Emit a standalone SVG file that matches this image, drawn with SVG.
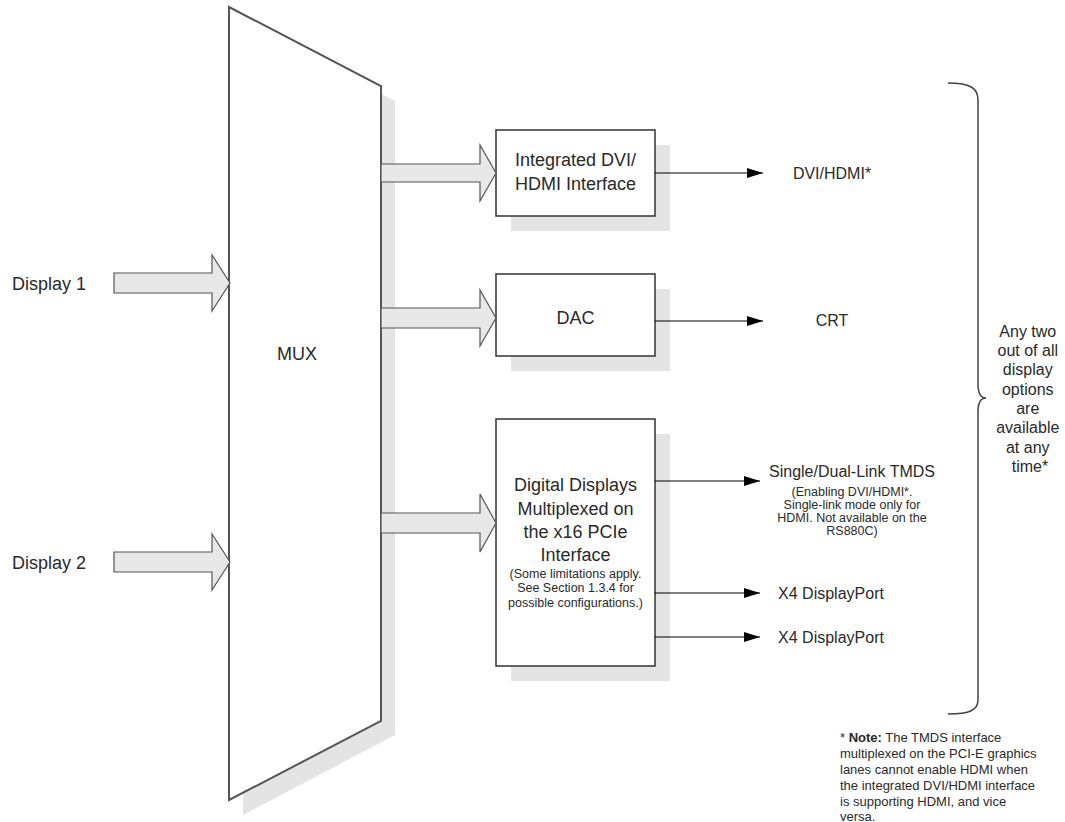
<svg xmlns="http://www.w3.org/2000/svg" width="1065" height="822" viewBox="0 0 1065 822">
<style>
text{font-family:"Liberation Sans",Arial,sans-serif;fill:#2a2a2a}
.big{font-size:18px}
.mid{font-size:16px}
.sm{font-size:12.5px}
.note{font-size:13px}
.shadow{fill:#e4e4e4;stroke:none}
.box{fill:#fff;stroke:#333;stroke-width:1.5}
.blk{fill:#e8e8e8;stroke:#555;stroke-width:1.2;stroke-linejoin:miter}
.conn{stroke:#000;stroke-width:1.2;fill:none}
</style>
<defs>
<marker id="ah" markerWidth="16" markerHeight="10" refX="16" refY="5" orient="auto" markerUnits="userSpaceOnUse">
<path d="M0,0 L16,5 L0,10 Z" fill="#000"/>
</marker>
</defs>
<rect width="1065" height="822" fill="#fff"/>

<g id="mux">
<polygon class="shadow" points="243,22 395,101 395,735 243,815"/>
<polygon points="229,7 381,86 381,721 229,800" fill="#fff" stroke="#555" stroke-width="2"/>
<text class="big" x="297" y="360" text-anchor="middle">MUX</text>
</g>

<g id="display1">
<text class="big" x="12" y="290">Display 1</text>
</g>
<g id="display2">
<text class="big" x="12" y="569">Display 2</text>
</g>

<g id="box-dvi">
<rect class="shadow" x="511" y="145" width="159" height="86"/>
<rect class="box" x="496" y="130" width="159" height="86"/>
<text class="big" x="575.5" y="166" text-anchor="middle">Integrated DVI/</text>
<text class="big" x="575.5" y="190" text-anchor="middle">HDMI Interface</text>
</g>

<g id="box-dac">
<rect class="shadow" x="511" y="289" width="159" height="82"/>
<rect class="box" x="496" y="274" width="159" height="82"/>
<text class="big" x="575.5" y="324" text-anchor="middle">DAC</text>
</g>

<g id="box-digital">
<rect class="shadow" x="511" y="434" width="159" height="247"/>
<rect class="box" x="496" y="419" width="159" height="247"/>
<text class="big" x="575.5" y="491" text-anchor="middle">Digital Displays</text>
<text class="big" x="575.5" y="515" text-anchor="middle">Multiplexed on</text>
<text class="big" x="575.5" y="538" text-anchor="middle">the x16 PCIe</text>
<text class="big" x="575.5" y="561" text-anchor="middle">Interface</text>
<text class="sm" x="575.5" y="578" text-anchor="middle">(Some limitations apply.</text>
<text class="sm" x="575.5" y="592" text-anchor="middle">See Section 1.3.4 for</text>
<text class="sm" x="575.5" y="607" text-anchor="middle">possible configurations.)</text>
</g>

<g id="out-dvi"><text class="mid" x="832" y="179" text-anchor="middle">DVI/HDMI*</text></g>
<g id="out-crt"><text class="mid" x="832" y="326" text-anchor="middle">CRT</text></g>
<g id="out-tmds">
<text class="mid" x="852" y="477" text-anchor="middle">Single/Dual-Link TMDS</text>
<text class="sm" x="852" y="496" text-anchor="middle">(Enabling DVI/HDMI*.</text>
<text class="sm" x="852" y="509" text-anchor="middle">Single-link mode only for</text>
<text class="sm" x="852" y="522" text-anchor="middle">HDMI. Not available on the</text>
<text class="sm" x="852" y="535" text-anchor="middle">RS880C)</text>
</g>
<g id="out-dp1"><text class="mid" x="831" y="599" text-anchor="middle">X4 DisplayPort</text></g>
<g id="out-dp2"><text class="mid" x="831" y="643" text-anchor="middle">X4 DisplayPort</text></g>

<g id="brace-note">
<path d="M948,83 C970,83 978,88 978,100 L978,384 C978,394 981,398 986,398 C981,398 978,402 978,412 L978,700 C978,710 970,714 948,714" fill="none" stroke="#444" stroke-width="1.5"/>
<text class="mid" text-anchor="middle">
<tspan x="1030" y="337">Any two</tspan>
<tspan x="1030" y="356">out of all</tspan>
<tspan x="1030" y="375">display</tspan>
<tspan x="1030" y="395">options</tspan>
<tspan x="1030" y="414">are</tspan>
<tspan x="1030" y="433">available</tspan>
<tspan x="1030" y="453">at any</tspan>
<tspan x="1030" y="472">time*</tspan>
</text>
</g>

<g id="footnote">
<text class="note">
<tspan x="840" y="742">* <tspan font-weight="bold">Note:</tspan> The TMDS interface</tspan>
<tspan x="840" y="758">multiplexed on the PCI-E graphics</tspan>
<tspan x="840" y="774">lanes cannot enable HDMI when</tspan>
<tspan x="840" y="790">the integrated DVI/HDMI interface</tspan>
<tspan x="840" y="806">is supporting HDMI, and vice</tspan>
<tspan x="840" y="821">versa.</tspan>
</text>
</g>

<g id="connectors">
<polygon class="blk" points="114,273 212,273 212,255 230,283 212,311 212,293 114,293"/>
<polygon class="blk" points="114,552 212,552 212,534 230,562 212,590 212,572 114,572"/>
<polygon class="blk" points="381,164 480,164 480,145 496,173 480,201 480,182 381,182"/>
<polygon class="blk" points="381,308 480,308 480,290 496,318 480,346 480,328 381,328"/>
<polygon class="blk" points="381,513 480,513 480,494 496,523 480,552 480,533 381,533"/>
<line class="conn" x1="655" y1="173" x2="763" y2="173" marker-end="url(#ah)"/>
<line class="conn" x1="655" y1="321" x2="763" y2="321" marker-end="url(#ah)"/>
<line class="conn" x1="655" y1="481" x2="760" y2="481" marker-end="url(#ah)"/>
<line class="conn" x1="655" y1="593" x2="760" y2="593" marker-end="url(#ah)"/>
<line class="conn" x1="655" y1="637" x2="760" y2="637" marker-end="url(#ah)"/>
</g>
</svg>
